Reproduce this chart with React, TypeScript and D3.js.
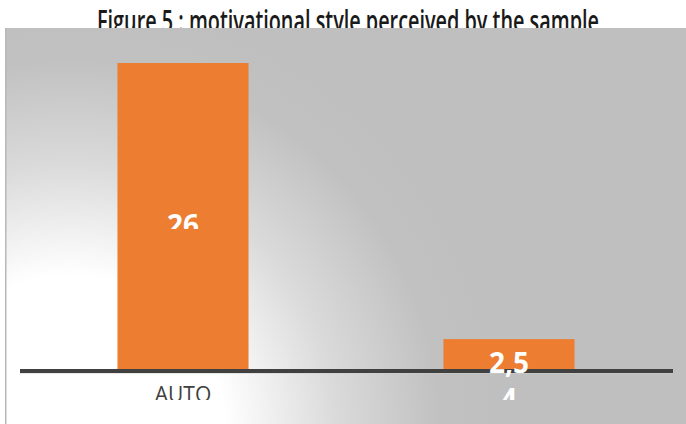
import React from "react";
import * as d3 from "d3";

const title = "Figure 5 : motivational style perceived by the sample";
const categories = ["AUTO", ""];
const values = [26, 2.54];
const valueLabels = [["26"], ["2,5", "4"]];

const W = 686;
const H = 424;

export default function App() {
  const x = d3
    .scaleBand<string>()
    .domain(categories.map((c, i) => String(i)))
    .range([20, 672])
    .paddingInner(0.598)
    .paddingOuter(0.299);
  const y = d3.scaleLinear().domain([0, 26]).range([369, 63]);
  const y0 = y(0);

  return (
    <svg
      width={W}
      height={H}
      style={{ position: "absolute", left: 0, top: 0 }}
      fontFamily="'Open Sans', sans-serif"
    >
      <defs>
        <radialGradient id="bg" gradientUnits="userSpaceOnUse" cx={70} cy={430} r={430}>
          <stop offset="0" stopColor="#ffffff" />
          <stop offset="0.36" stopColor="#ffffff" />
          <stop offset="0.62" stopColor="#dadada" />
          <stop offset="0.86" stopColor="#c1c1c1" />
          <stop offset="1" stopColor="#bfbfbf" />
        </radialGradient>
        <clipPath id="bottomClip">
          <rect x={0} y={0} width={W} height={400} />
        </clipPath>
        <clipPath id="lab0">
          <rect x={0} y={200} width={W} height={29} />
        </clipPath>
        <clipPath id="lab1">
          <rect x={0} y={330} width={W} height={70} />
        </clipPath>
      </defs>
      <rect x={0} y={0} width={W} height={H} fill="#ffffff" />
      <text
        x={348}
        y={32}
        textAnchor="middle"
        fontSize={30}
        fontWeight={600}
        fill="#1a1a1a"
        textLength={502}
        lengthAdjust="spacingAndGlyphs"
      >
        {title}
      </text>
      <rect x={5} y={28} width={W - 5} height={H - 28} fill="url(#bg)" />
      <rect x={5} y={28} width={1.5} height={H - 28} fill="#b8b8b8" />
      {values.map((v, i) => (
        <rect
          key={i}
          x={x(String(i))}
          y={y(v)}
          width={x.bandwidth()}
          height={y0 - y(v)}
          fill="#ed7d31"
        />
      ))}
      <line x1={20} x2={673} y1={371} y2={371} stroke="#404040" strokeWidth={4} />
      <line x1={20} x2={673} y1={373.5} y2={373.5} stroke="#d0d0d0" strokeWidth={1} opacity={0.5} />
      <g clipPath="url(#bottomClip)">
        {categories.map((c, i) => (
          <text
            key={i}
            x={(x(String(i)) as number) + x.bandwidth() / 2}
            y={402}
            textAnchor="middle"
            fontSize={21}
            fill="#404040"
          >
            {c}
          </text>
        ))}
      </g>
      {values.map((v, i) => {
        const cx = (x(String(i)) as number) + x.bandwidth() / 2;
        const tall = y0 - y(v) > 60;
        const base = tall ? (y(v) + y0) / 2 + 19 : 373;
        return (
          <g key={i} clipPath={`url(#lab${i})`}>
            {valueLabels[i].map((s, j) => (
              <text
                key={j}
                x={cx}
                y={base + j * 36}
                textAnchor="middle"
                fontSize={28}
                fontWeight={700}
                fill="#ffffff"
              >
                {s}
              </text>
            ))}
          </g>
        );
      })}
    </svg>
  );
}
